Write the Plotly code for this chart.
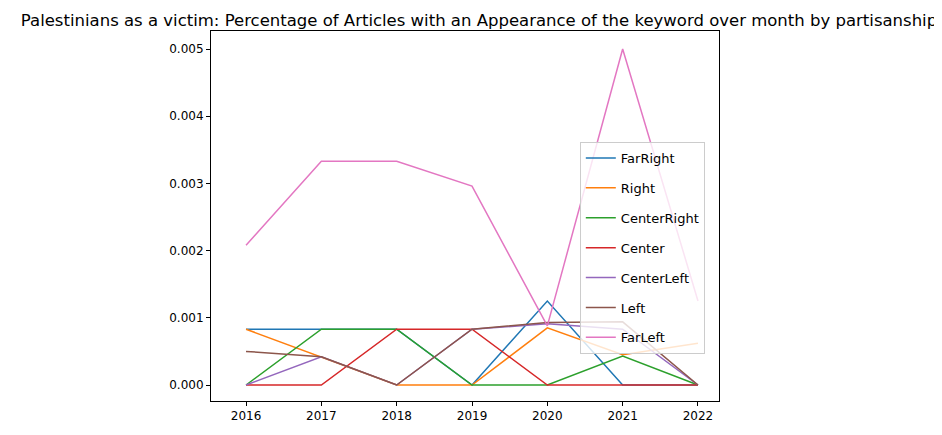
import plotly.graph_objects as go

years = [2016, 2017, 2018, 2019, 2020, 2021, 2022]
far_right = [0.00083, 0.00083, 0.00083, 0.0, 0.00125, 0.0, 0.0]
right = [0.00083, 0.00042, 0.0, 0.0, 0.00085, 0.00045, 0.00062]
center_right = [0.0, 0.00083, 0.00083, 0.0, 0.0, 0.00043, 0.0]
center = [0.0, 0.0, 0.00083, 0.00083, 0.0, 0.0, 0.0]
center_left = [0.0, 0.00042, 0.0, 0.00083, 0.00091, 0.00083, 0.0]
left = [0.0005, 0.00042, 0.0, 0.00083, 0.00093, 0.00094, 0.0]
far_left = [0.00208, 0.00333, 0.00333, 0.00296, 0.00088, 0.005, 0.00125]

series = [("FarRight", far_right, "#1f77b4"), ("Right", right, "#ff7f0e"),
          ("CenterRight", center_right, "#2ca02c"), ("Center", center, "#d62728"),
          ("CenterLeft", center_left, "#9467bd"), ("Left", left, "#8c564b"),
          ("FarLeft", far_left, "#e377c2")]

fig = go.Figure()
for name, vals, col in series:
    fig.add_trace(go.Scatter(x=years, y=vals, name=name, mode="lines", legendgroup=name,
                             line=dict(color=col, width=1.5)))

axis = dict(showgrid=False, zeroline=False, showline=True, mirror=True,
            linecolor="black", linewidth=1, ticks="outside", ticklen=4,
            tickcolor="black", tickfont=dict(size=12, color="black"))
fig.update_layout(
    width=942, height=435, plot_bgcolor="white", paper_bgcolor="white",
    font=dict(family="DejaVu Sans", color="black"),
    margin=dict(l=203, r=231, t=23, b=42),
    title=dict(text="Palestinians as a victim: Percentage of Articles with an Appearance of the keyword over month by partisanship",
               x=0.5, xanchor="center", y=0.972, yanchor="middle", font=dict(size=16.5)),
    xaxis=dict(range=[2015.535, 2022.279], tickvals=years, **axis),
    yaxis=dict(range=[-0.000238, 0.005268], tickvals=[0, 0.001, 0.002, 0.003, 0.004, 0.005],
               tickformat=".3f", **axis),
    legend=dict(x=0.726, xanchor="left", y=0.70, yanchor="top", tracegroupgap=10,
                bordercolor="#cccccc", borderwidth=1, bgcolor="rgba(255,255,255,0.8)",
                font=dict(size=13)),
)
fig.write_html("out.html")
